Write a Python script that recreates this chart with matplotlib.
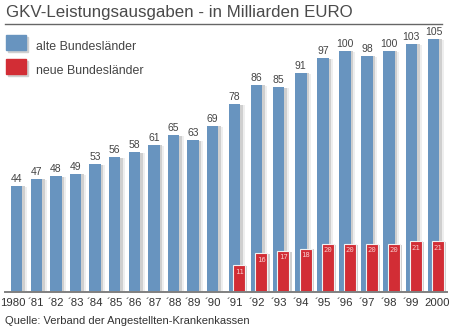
import matplotlib
matplotlib.use("Agg")
from matplotlib import pyplot as plt
from matplotlib.patches import Rectangle
import numpy as np

plt.rcParams['font.family'] = ['Liberation Sans', 'DejaVu Sans']

years = ["1980", "´81", "´82", "´83", "´84", "´85", "´86", "´87", "´88", "´89", "´90",
         "´91", "´92", "´93", "´94", "´95", "´96", "´97", "´98", "´99", "2000"]
alte = [44, 47, 48, 49, 53, 56, 58, 61, 65, 63, 69,
        78, 86, 85, 91, 97, 100, 98, 100, 103, 105]
neue = [None] * 11 + [11, 16, 17, 18, 20, 20, 20, 20, 21, 21]

blue = '#6894bf'
red = '#d22d35'
grey_txt = '#444444'

fig = plt.figure(figsize=(4.5, 3.31), dpi=100)
# axes spans the full width; x in pixels, y in billions with the baseline at y=292px
base_px = 292
ax = fig.add_axes([0, (331 - base_px) / 331, 1, base_px / 331])
px_per_unit = 2.41
ax.set_xlim(0, 450)
ax.set_ylim(0, base_px / px_per_unit)
ax.axis('off')

# slot centres: older years a bit tighter than the 90s
xs = []
for i in range(len(years)):
    if i <= 10:
        xs.append(16.7 + 19.6 * i)
    else:
        xs.append(234.5 + 22.1 * (i - 11))
xs = np.array(xs)
w = 11.5

# soft shadow right of each bar
ax.bar(xs + 4.5, np.array(alte) - 0.4, width=w, color='#eeeeee', zorder=1)
ax.bar(xs + 2.5, np.array(alte) - 0.2, width=w, color='#cfcfcf', zorder=2)
ax.bar(xs, alte, width=w, color=blue, zorder=3)

for x, v in zip(xs, alte):
    ax.annotate(str(v), (x, v), xytext=(0, 1.5), textcoords='offset points',
                ha='center', va='bottom', fontsize=7.5, color=grey_txt, zorder=6)

for x, v in zip(xs, neue):
    if v is None:
        continue
    xr = x + 4.7
    ax.bar(xr + 2.5, v - 0.3, width=w, color='#cfcfcf', zorder=4)
    ax.bar(xr, v, width=w + 0.5, color=red, edgecolor='#f2f2f2', linewidth=0.8, zorder=5)
    ax.annotate(str(v), (xr, v), xytext=(0, -4.4), textcoords='offset points',
                ha='center', va='center', fontsize=5.2, color='#f7cccc',
                family='DejaVu Sans Mono', zorder=6)

# baseline
ax.plot([5, 447], [0, 0], color='#808080', lw=1.4, zorder=7, clip_on=False)

# x labels; the full years sit a little outward
for x, lab in zip(xs, years):
    if lab == "1980":
        x -= 4
    elif lab == "2000":
        x += 4
    fig.text(x / 450, 1 - 303 / 331, lab, ha='center', va='center',
             fontsize=8.2, color='#333333')

# title and rule
fig.text(6 / 450, 1 - 13 / 331, "GKV-Leistungsausgaben - in Milliarden EURO",
         ha='left', va='center', fontsize=12.2, color='#4a4a4a')
fig.add_artist(plt.Line2D([5 / 450, 442 / 450], [1 - 24 / 331, 1 - 24 / 331],
                          color='#666666', lw=1.0))

# legend boxes
for (y0, col, lab) in [(35, blue, "alte Bundesländer"), (59, red, "neue Bundesländer")]:
    fig.add_artist(Rectangle((8 / 450, 1 - (y0 + 17) / 331), 20 / 450, 15 / 331,
                             transform=fig.transFigure, color='#d0d0d0'))
    fig.add_artist(Rectangle((6 / 450, 1 - (y0 + 15) / 331), 20 / 450, 15 / 331,
                             transform=fig.transFigure, color=col))
    fig.text(36 / 450, 1 - (y0 + 11.5) / 331, lab, ha='left', va='center',
             fontsize=8.9, color=grey_txt)

fig.text(5 / 450, 1 - 321 / 331, "Quelle: Verband der Angestellten-Krankenkassen",
         ha='left', va='center', fontsize=8.0, color='#333333')

fig.savefig("out.png", dpi=100)
